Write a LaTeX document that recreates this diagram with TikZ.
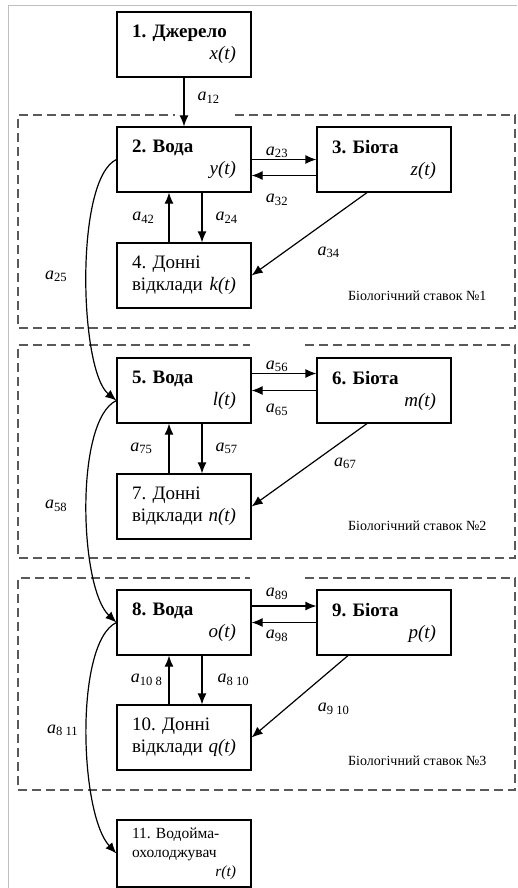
\documentclass[tikz,border=0pt]{standalone}
\usepackage{fontspec}
\setmainfont{Liberation Serif}
\usetikzlibrary{arrows.meta}
\newcommand{\acoef}[1]{\textit{a}\textsubscript{#1}}
\frenchspacing

\begin{document}
\begin{tikzpicture}[x=1pt, y=-1pt, line width=1.2pt, >={Latex[length=11pt,width=9pt]}]
    \tikzstyle{box}=[draw, rectangle, minimum width=134pt, minimum height=65pt, text width=104pt, align=left, inner sep=0pt, font=\fontsize{19}{22}\selectfont]
    \tikzstyle{lab}=[inner sep=1pt, font=\fontsize{18}{18}\selectfont]
    \tikzstyle{pond}=[draw=black!65, line width=1.3pt, dash pattern=on 9pt off 5pt]
    \tikzstyle{pondname}=[anchor=base east, inner sep=0pt, font=\fontsize{14}{14}\selectfont]
    \useasboundingbox (0,0) rectangle (517,888);
    \draw[black!25, line width=1pt] (8,888) -- (8,6) -- (517,6);

    % ponds
    \draw[pond] (235,115) -- (515,115) -- (515,328) -- (18,328) -- (18,115) -- (175,115);
    \draw[pond] (305,345) -- (515,345) -- (515,558) -- (18,558) -- (18,345) -- (250,345);
    \draw[pond] (305,578) -- (515,578) -- (515,790) -- (18,790) -- (18,578) -- (250,578);
    \node[pondname] (p1) at (487,300) {Біологічний ставок №1};
    \node[pondname] (p2) at (487,530) {Біологічний ставок №2};
    \node[pondname] (p3) at (487,765) {Біологічний ставок №3};

    % boxes
    \node[box] (b1) at (184,44.5) {\textbf{1. Джерело}\\\hspace*{\fill}\textit{x(t)}};
    \node[box] (b2) at (184,159.5) {\textbf{2. Вода}\\\hspace*{\fill}\textit{y(t)}};
    \node[box] (b3) at (384,159.5) {\textbf{3. Біота}\\\hspace*{\fill}\textit{z(t)}};
    \node[box] (b4) at (184,275.5) {4. Донні\\відклади\hspace*{\fill}\textit{k(t)}};
    \node[box] (b5) at (184,390.5) {\textbf{5. Вода}\\\hspace*{\fill}\textit{l(t)}};
    \node[box] (b6) at (384,390.5) {\textbf{6. Біота}\\\hspace*{\fill}\textit{m(t)}};
    \node[box] (b7) at (184,506.5) {7. Донні\\відклади\hspace*{\fill}\textit{n(t)}};
    \node[box] (b8) at (184,622.5) {\textbf{8. Вода}\\\hspace*{\fill}\textit{o(t)}};
    \node[box] (b9) at (384,622.5) {\textbf{9. Біота}\\\hspace*{\fill}\textit{p(t)}};
    \node[box] (b10) at (184,737.5) {10. Донні\\відклади\hspace*{\fill}\textit{q(t)}};
    \node[box, minimum height=67pt, font=\fontsize{15.5}{19}\selectfont] (b11) at (184,853.5) {11. Водойма-\\охолоджувач\\\hspace*{\fill}\textit{r(t)}};

    % flows
    \draw[->] (b1) -- node[lab, right=12pt, yshift=4pt] (l12) {\acoef{12}} (b2);

    \draw[->] (b2) -- node[lab, above, xshift=-7pt] (l23) {\acoef{23}} (b3);
    \draw[->] ([yshift=-16pt]b3.west) -- node[lab, below=17pt, xshift=-7pt] (l32) {\acoef{32}} ([yshift=-16pt]b2.east);
    \draw[->] ([xshift=-15pt]b4.north) -- node[lab, left=13pt] (l42) {\acoef{42}} ([xshift=-15pt]b2.south);
    \draw[->] ([xshift=18pt]b2.south) -- node[lab, right=12pt] (l24) {\acoef{24}} ([xshift=18pt]b4.north);
    \draw[->] ([xshift=-17pt]b3.south) -- node[lab, pos=0.72, right=32pt] (l34) {\acoef{34}} (b4.east);
    \draw[->] (b2.west) .. controls +(-42,20) and +(-37,-30) .. ([yshift=-10pt]b5.west) node[lab, pos=0.5, left=18pt] (l25) {\acoef{25}};

    \draw[->] ([yshift=17pt]b5.east) -- node[lab, above, xshift=-7pt] (l56) {\acoef{56}} ([yshift=17pt]b6.west);
    \draw[->] (b6) -- node[lab, below=12pt, xshift=-7pt] (l65) {\acoef{65}} (b5);
    \draw[->] ([xshift=-15pt]b7.north) -- node[lab, left=15pt] (l75) {\acoef{75}} ([xshift=-15pt]b5.south);
    \draw[->] ([xshift=18pt]b5.south) -- node[lab, right=12pt] (l57) {\acoef{57}} ([xshift=18pt]b7.north);
    \draw[->] ([xshift=-17pt]b6.south) -- node[lab, pos=0.48, right=21pt] (l67) {\acoef{67}} (b7.east);
    \draw[->] ([yshift=-10pt]b5.west) .. controls +(-42,20) and +(-37,-35) .. (b8.west) node[lab, pos=0.5, left=18pt] (l58) {\acoef{58}};

    \draw[->] ([yshift=16.5pt]b8.east) -- node[lab, above=5pt, xshift=-7pt] (l89) {\acoef{89}} ([yshift=16.5pt]b9.west);
    \draw[->] (b9) -- node[lab, below=6pt, xshift=-7pt] (l98) {\acoef{98}} (b8);
    \draw[->] ([xshift=-15pt]b10.north) -- node[lab, left=5pt] (l108) {\acoef{10 8}} ([xshift=-15pt]b8.south);
    \draw[->] ([xshift=18pt]b8.south) -- node[lab, right=14pt] (l810) {\acoef{8 10}} ([xshift=18pt]b10.north);
    \draw[->] ([xshift=-36pt]b9.south) -- node[lab, pos=0.65, right=31pt] (l910) {\acoef{9 10}} (b10.east);
    \draw[->] (b8.west) .. controls +(-42,20) and +(-37,-40) .. (b11.west) node[lab, pos=0.5, left=7pt] (l811) {\acoef{8 11}};
\end{tikzpicture}
\end{document}
